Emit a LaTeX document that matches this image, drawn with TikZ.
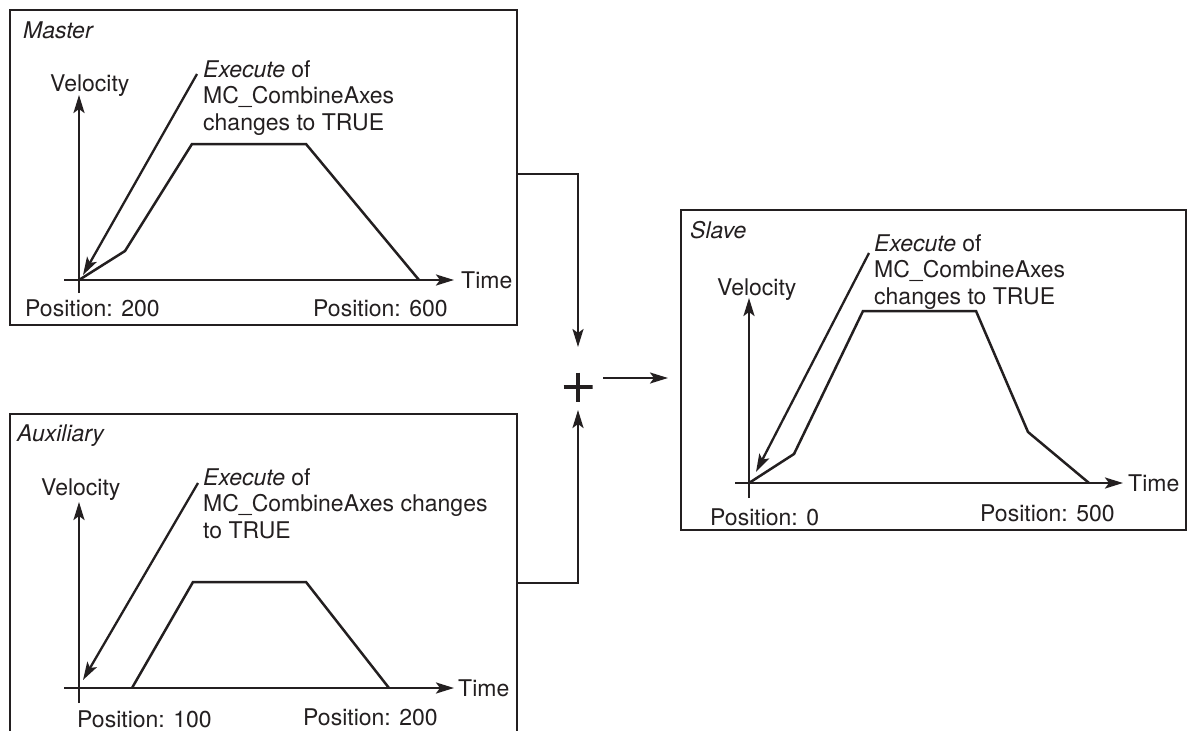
\documentclass[tikz,border=0pt]{standalone}
\usepackage{fontspec}
\setmainfont{TeX Gyre Heros}
\usetikzlibrary{arrows.meta}
\definecolor{ink}{RGB}{35,31,32}
\newcommand{\lblsize}{\fontsize{23}{26.5}\selectfont}

\begin{document}
\begin{tikzpicture}[x=1pt, y=-1pt, >={Stealth[length=18pt, width=11pt, inset=4pt]},
    panel/.style={draw=ink, line width=2.7pt, inner sep=0pt, outer sep=0pt},
    curve/.style={draw=ink, line width=2.5pt, line join=miter},
    axis/.style={draw=ink, line width=2.5pt, ->},
    link/.style={draw=ink, line width=2.3pt, ->},
    lbl/.style={font=\lblsize, text=ink, inner sep=0pt, anchor=base west},
    note/.style={font=\lblsize, text=ink, inner sep=0pt, anchor=north west, align=left},
    sumsign/.style={minimum size=29pt, inner sep=0pt, outer sep=0pt,
      path picture={\draw[ink, line width=4pt]
        (path picture bounding box.north) -- (path picture bounding box.south)
        (path picture bounding box.west) -- (path picture bounding box.east);}}]
    \useasboundingbox (0,0) rectangle (1187,731);

    % Panels
    \node[panel, minimum width=507pt, minimum height=315pt] (master) at (263.5,167.5) {};
    \node[panel, minimum width=507pt, minimum height=338pt] (aux) at (263.5,583) {};
    \node[panel, minimum width=505pt, minimum height=320pt] (slave) at (933.5,370) {};

    \node[lbl, font=\lblsize\itshape] (mtitle) at (23,38) {Master};
    \node[lbl, font=\lblsize\itshape] (atitle) at (17,441) {Auxiliary};
    \node[lbl, font=\lblsize\itshape] (stitle) at (690,238) {Slave};

    % Master profile
    \begin{scope}[shift={(79,280)}]
      \draw[axis] (0,13) -- (0,-185);
      \draw[axis] (-15,0) -- (375,0);
      \draw[curve] (0,0) -- (46,-29) -- (113,-136) -- (227,-136) -- (340,0);
      \node[lbl] (mvel) at (-29,-189) {Velocity};
      \node[lbl] (mtime) at (382,8) {Time};
      \node[lbl] (mpos1) at (-54,36) {Position: 200};
      \node[lbl] (mpos2) at (234,36) {Position: 600};
      \node[note] (mnote) at (124,-220) {\textit{Execute} of\\MC\_CombineAxes\\changes to TRUE};
      \coordinate (mtip) at (4,-5);
      \draw[link] ([xshift=-6pt, yshift=-14pt]mnote.north west) -- (mtip);
    \end{scope}

    % Auxiliary profile
    \begin{scope}[shift={(79,688)}]
      \draw[axis] (0,15) -- (0,-186);
      \draw[axis] (-15,0) -- (375,0);
      \draw[curve] (53,0) -- (114,-106) -- (227,-106) -- (310,0);
      \node[lbl] (avel) at (-38,-193) {Velocity};
      \node[lbl] (atime) at (379,8) {Time};
      \node[lbl] (apos1) at (-2,39) {Position: 100};
      \node[lbl] (apos2) at (224,37) {Position: 200};
      \node[note] (anote) at (124,-220) {\textit{Execute} of\\MC\_CombineAxes changes\\to TRUE};
      \coordinate (atip) at (4,-8);
      \draw[link] ([xshift=-5pt, yshift=-15pt]anote.north west) -- (atip);
    \end{scope}

    % Slave profile
    \begin{scope}[shift={(749,483)}]
      \draw[axis] (0,15) -- (0,-185);
      \draw[axis] (-14,0) -- (374,0);
      \draw[curve] (0,0) -- (45,-29) -- (114,-172) -- (227,-172) -- (279,-51) -- (340,0);
      \node[lbl] (svel) at (-32,-188) {Velocity};
      \node[lbl] (stime) at (379,8) {Time};
      \node[lbl] (spos1) at (-39,42) {Position: 0};
      \node[lbl] (spos2) at (231,38) {Position: 500};
      \node[note] (snote) at (125,-249) {\textit{Execute} of\\MC\_CombineAxes\\changes to TRUE};
      \coordinate (stip) at (7,-11);
      \draw[link] ([xshift=-5pt, yshift=-19pt]snote.north west) -- (stip);
    \end{scope}

    % Sum and connectors
    \node[sumsign] (sum) at (578,387) {};
    \draw[link] ([yshift=-6.5pt]master.east) -| ([yshift=25.5pt]sum.north);
    \draw[link] (aux.east) -| ([yshift=-8.5pt]sum.south);
    \draw[link] ([xshift=10.5pt, yshift=9pt]sum.east) -- ([xshift=-13pt, yshift=-8pt]slave.west);
\end{tikzpicture}
\end{document}
